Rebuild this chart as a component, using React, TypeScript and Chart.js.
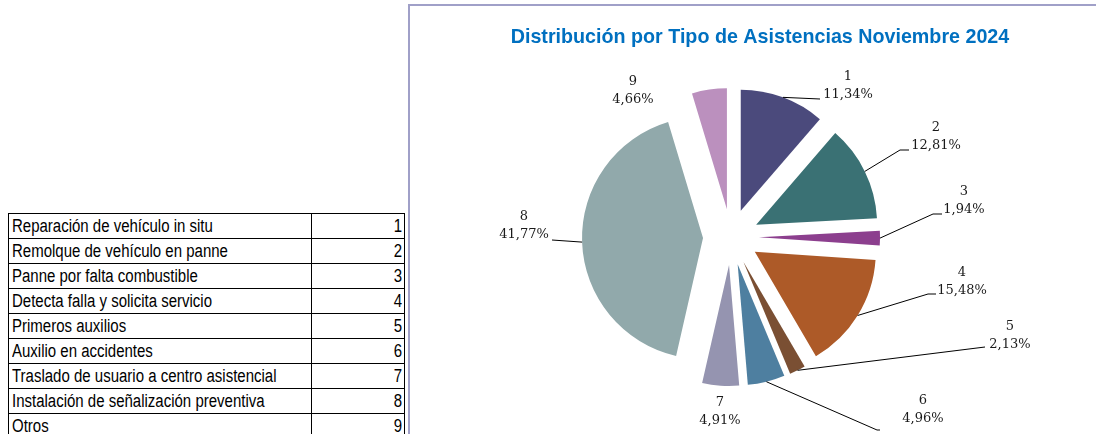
import React, { useEffect, useRef } from 'react';
import { Chart, registerables } from 'chart.js';

Chart.register(...registerables);

const TITLE = 'Distribución por Tipo de Asistencias Noviembre 2024';

const CATEGORIES = [
  'Reparación de vehículo in situ',
  'Remolque de vehículo en panne',
  'Panne por falta combustible',
  'Detecta falla y solicita servicio',
  'Primeros auxilios',
  'Auxilio en accidentes',
  'Traslado de usuario a centro asistencial',
  'Instalación de señalización preventiva',
  'Otros',
];

const CATEGORY_CODES = ['1', '2', '3', '4', '5', '6', '7', '8', '9'];

const PERCENTS = [11.34, 12.81, 1.94, 15.48, 2.13, 4.96, 4.91, 41.77, 4.66];

const COLORS = [
  '#4B4A7C',
  '#3A7174',
  '#8C3F8E',
  '#AD5A28',
  '#7A4F33',
  '#4E7FA0',
  '#9594B0',
  '#91A9AB',
  '#BB90BE',
];

// style / layout config (not data)
const EXPLODE = 28;
const PIE_RADIUS = 121;
// label block centers relative to pie centre
const LABEL_CENTERS: number[][] = [
  [117, -151.5],
  [205, -100],
  [233, -36.5],
  [231, 45],
  [279, 98.5],
  [192, 172.5],
  [-11, 175],
  [-207, -11],
  [-98, -146.5],
];
// leader line points (after the arc edge point) relative to pie centre
const LEADERS: number[][][] = [
  [[89, -138]],
  [[169, -87], [178, -87]],
  [[202, -23], [211, -23]],
  [[197, 57], [205, 57]],
  [[254, 110]],
  [[146, 193], [149, 193]],
  [],
  [[-179, 3]],
  [],
];

const fmtPct = (v: number) => v.toFixed(2).replace('.', ',') + '%';

const explodePlugin = {
  id: 'explodeSlices',
  beforeDatasetsDraw(chart: any) {
    const ca = chart.chartArea;
    const cx = (ca.left + ca.right) / 2;
    const cy = (ca.top + ca.bottom) / 2;
    chart.getDatasetMeta(0).data.forEach((arc: any) => {
      const mid = (arc.startAngle + arc.endAngle) / 2;
      arc.x = cx + Math.cos(mid) * EXPLODE;
      arc.y = cy + Math.sin(mid) * EXPLODE;
    });
  },
};

const labelPlugin = {
  id: 'sliceLabels',
  afterDatasetsDraw(chart: any) {
    const ctx = chart.ctx;
    const ca = chart.chartArea;
    const cx = (ca.left + ca.right) / 2;
    const cy = (ca.top + ca.bottom) / 2;
    ctx.save();
    ctx.strokeStyle = '#000000';
    ctx.lineWidth = 1;
    ctx.font = '13px "DejaVu Serif"';
    ctx.fillStyle = '#1a1a1a';
    ctx.textAlign = 'center';
    ctx.textBaseline = 'middle';
    chart.getDatasetMeta(0).data.forEach((arc: any, i: number) => {
      const mid = (arc.startAngle + arc.endAngle) / 2;
      const leader = LEADERS[i];
      if (leader && leader.length) {
        ctx.beginPath();
        ctx.moveTo(arc.x + Math.cos(mid) * arc.outerRadius, arc.y + Math.sin(mid) * arc.outerRadius);
        leader.forEach((p) => ctx.lineTo(cx + p[0], cy + p[1]));
        ctx.stroke();
      }
      const [lx, ly] = LABEL_CENTERS[i];
      ctx.fillText(CATEGORY_CODES[i], cx + lx, cy + ly - 9);
      ctx.fillText(fmtPct(PERCENTS[i]), cx + lx, cy + ly + 9);
    });
    ctx.restore();
  },
};

const titlePlugin = {
  id: 'customTitle',
  afterDraw(chart: any) {
    const ctx = chart.ctx;
    ctx.save();
    ctx.font = 'bold 19.7px "Liberation Sans", Arial, sans-serif';
    ctx.fillStyle = '#0070C0';
    ctx.textAlign = 'center';
    ctx.textBaseline = 'middle';
    ctx.fillText(TITLE, chart.width / 2, 31.5);
    ctx.restore();
  },
};

function PieChart() {
  const ref = useRef<HTMLCanvasElement>(null);
  useEffect(() => {
    if (!ref.current) return;
    const chart = new Chart(ref.current, {
      type: 'pie',
      data: {
        labels: CATEGORY_CODES,
        datasets: [
          {
            data: PERCENTS,
            backgroundColor: COLORS,
            borderWidth: 0,
            radius: PIE_RADIUS,
          } as any,
        ],
      },
      options: {
        animation: false,
        responsive: false,
        maintainAspectRatio: false,
        devicePixelRatio: 1,
        layout: { padding: { left: 0, right: 58, top: 44, bottom: 10 } },
        plugins: {
          legend: { display: false },
          tooltip: { enabled: false },
          title: { display: false },
        },
      },
      plugins: [explodePlugin, labelPlugin, titlePlugin],
    });
    return () => chart.destroy();
  }, []);
  return (
    <canvas
      ref={ref}
      width={672}
      height={428}
      style={{ position: 'absolute', left: 424, top: 6, width: 672, height: 428 }}
    />
  );
}

const narrow = (origin: string): React.CSSProperties => ({
  display: 'inline-block',
  transform: 'scaleX(0.833)',
  transformOrigin: origin,
});

export default function App() {
  const rowH = 25;
  return (
    <div
      style={{
        position: 'fixed',
        left: 0,
        top: 0,
        width: 1096,
        height: 434,
        overflow: 'hidden',
        background: '#ffffff',
      }}
    >
      <div
        style={{
          position: 'absolute',
          left: 8,
          top: 213,
          width: 397,
          borderLeft: '1px solid #000',
          borderTop: '1px solid #000',
          boxSizing: 'border-box',
          fontFamily: '"Liberation Sans", Arial, sans-serif',
          fontSize: 18,
          color: '#000',
        }}
      >
        {CATEGORIES.map((c, i) => (
          <div
            key={c}
            style={{
              display: 'flex',
              height: rowH,
              boxSizing: 'border-box',
              borderBottom: '1px solid #000',
              lineHeight: rowH - 1 + 'px',
              whiteSpace: 'nowrap',
            }}
          >
            <div
              style={{
                width: 303,
                boxSizing: 'border-box',
                borderRight: '1px solid #000',
                paddingLeft: 3,
                overflow: 'hidden',
              }}
            >
              <span style={narrow('left center')}>{c}</span>
            </div>
            <div
              style={{
                width: 93,
                boxSizing: 'border-box',
                borderRight: '1px solid #000',
                paddingRight: 2,
                textAlign: 'right',
              }}
            >
              <span style={narrow('right center')}>{CATEGORY_CODES[i]}</span>
            </div>
          </div>
        ))}
      </div>
      <div
        style={{
          position: 'absolute',
          left: 408,
          top: 4,
          width: 700,
          height: 440,
          borderLeft: '2px solid #A0A0C8',
          borderTop: '2px solid #A0A0C8',
          boxSizing: 'border-box',
        }}
      />
      <PieChart />
    </div>
  );
}
